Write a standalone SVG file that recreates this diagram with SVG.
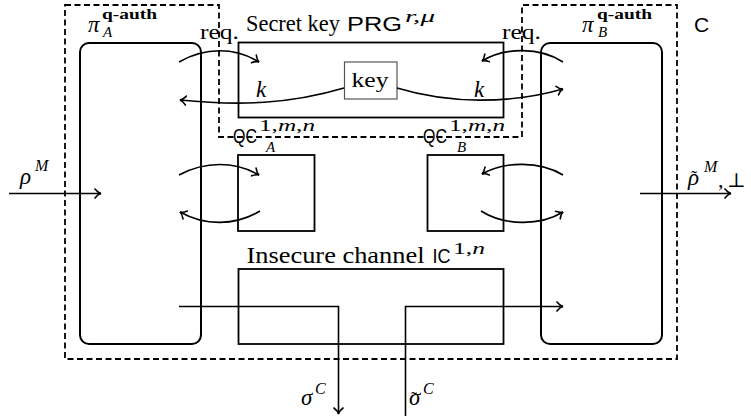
<svg xmlns="http://www.w3.org/2000/svg" width="751" height="420" viewBox="0 0 751 420">
<defs>
<marker id="arr" viewBox="-7 -6 9 12" refX="0" refY="0" markerWidth="9" markerHeight="12" markerUnits="userSpaceOnUse" orient="auto">
<path d="M-6,-4.5 C-3.8,-1.7 -1.3,-0.3 0,0 C-1.3,0.3 -3.8,1.7 -6,4.5" fill="none" stroke="#000" stroke-width="1.6" stroke-linecap="round"/>
</marker>
<style>
.box{fill:none;stroke:#000;stroke-width:1.8}
.rbox{fill:none;stroke:#000;stroke-width:2}
.dash{fill:none;stroke:#000;stroke-width:1.8;stroke-dasharray:6,3.5}
.ln{fill:none;stroke:#000;stroke-width:1.6;marker-end:url(#arr)}
.rm{font-family:'Liberation Serif','DejaVu Serif','Times New Roman',serif;fill:#000}
.it{font-family:'Liberation Serif','DejaVu Serif','Times New Roman',serif;font-style:italic;fill:#000}
.sf{font-family:'Liberation Sans','DejaVu Sans',Arial,sans-serif;fill:#000}
</style>
</defs>
<rect width="751" height="420" fill="#fff"/>

<g id="boundary">
<path class="dash" d="M65,5 H219 V137 H522 V5 H677 V359 H65 Z"/>
<text class="sf" x="694" y="32" font-size="21">C</text>
</g>

<g id="piA">
<rect class="rbox" x="80" y="43" width="121" height="301" rx="9"/>
<text class="it" y="32"><tspan x="88" font-size="23">π</tspan><tspan x="102" y="19" font-size="15" font-style="normal" font-weight="bold" textLength="55" lengthAdjust="spacingAndGlyphs">q-auth</tspan><tspan x="103" y="37" font-size="15">A</tspan></text>
</g>

<g id="piB">
<rect class="rbox" x="541" y="43" width="121" height="301" rx="9"/>
<text class="it" y="32"><tspan x="582" font-size="23">π</tspan><tspan x="597" y="19" font-size="15" font-style="normal" font-weight="bold" textLength="55" lengthAdjust="spacingAndGlyphs">q-auth</tspan><tspan x="598" y="37" font-size="15">B</tspan></text>
</g>

<g id="PRG">
<rect class="box" x="238.5" y="42.5" width="265" height="75"/>
<text class="rm" y="31"><tspan x="246" font-size="23" textLength="94" lengthAdjust="spacingAndGlyphs">Secret key</tspan><tspan class="sf" x="347" font-size="21" textLength="55" lengthAdjust="spacingAndGlyphs">PRG</tspan><tspan x="405" y="22" font-size="16" font-style="italic" textLength="30" lengthAdjust="spacingAndGlyphs">r,μ</tspan></text>
</g>

<g id="key">
<rect x="344.5" y="62" width="52.5" height="37" fill="#fff" stroke="#555" stroke-width="1.2"/>
<text class="rm" x="351.5" y="87" font-size="22" textLength="37" lengthAdjust="spacingAndGlyphs">key</text>
</g>

<g id="QCA">
<rect class="box" x="238" y="155" width="76.5" height="76"/>
<text class="sf" y="143"><tspan x="233" font-size="20" textLength="24" lengthAdjust="spacingAndGlyphs">QC</tspan><tspan class="rm" x="259" y="131" font-size="16" textLength="56" lengthAdjust="spacingAndGlyphs">1,<tspan font-style="italic">m</tspan>,<tspan font-style="italic">n</tspan></tspan><tspan class="rm" x="266" y="152" font-size="15" font-style="italic">A</tspan></text>
</g>

<g id="QCB">
<rect class="box" x="427.5" y="155" width="76" height="76"/>
<text class="sf" y="143"><tspan x="423" font-size="20" textLength="24" lengthAdjust="spacingAndGlyphs">QC</tspan><tspan class="rm" x="449" y="131" font-size="16" textLength="56" lengthAdjust="spacingAndGlyphs">1,<tspan font-style="italic">m</tspan>,<tspan font-style="italic">n</tspan></tspan><tspan class="rm" x="457" y="152" font-size="15" font-style="italic">B</tspan></text>
</g>

<g id="IC">
<rect class="box" x="238.5" y="269" width="265" height="75"/>
<text class="rm" y="263"><tspan x="246.5" font-size="23" textLength="178" lengthAdjust="spacingAndGlyphs">Insecure channel</tspan><tspan class="sf" x="432.5" font-size="21" textLength="18" lengthAdjust="spacingAndGlyphs">IC</tspan><tspan x="453" y="254" font-size="16" textLength="32" lengthAdjust="spacingAndGlyphs">1,<tspan font-style="italic">n</tspan></tspan></text>
</g>

<g id="connectors">
<path class="ln" d="M179,62 C205,47 235,47 259,62"/>
<path class="ln" d="M344,88 C290,104 240,106 180,100"/>
<path class="ln" d="M563,62 C540,47 505,47 482,61"/>
<path class="ln" d="M397,88 C450,104 510,104 563,89"/>
<path class="ln" d="M179,175 C205,161 235,161 259,175"/>
<path class="ln" d="M260,211 C235,226 205,226 180,212"/>
<path class="ln" d="M563,175 C540,161 505,161 482,174"/>
<path class="ln" d="M481,211 C505,226 540,226 563,212"/>
<path class="ln" d="M9,193.5 H101"/>
<path class="ln" d="M640,193.5 H731"/>
<path class="ln" d="M179,306.5 H338.5 V414"/>
<path class="ln" d="M405.5,416 V306.5 H563"/>
</g>

<g id="labels">
<text class="rm" x="200" y="39" font-size="22" textLength="39" lengthAdjust="spacingAndGlyphs">req.</text>
<text class="rm" x="502" y="39" font-size="22" textLength="39" lengthAdjust="spacingAndGlyphs">req.</text>
<text class="it" x="256" y="97" font-size="23">k</text>
<text class="it" x="474" y="97" font-size="23">k</text>
<text class="it" y="184"><tspan x="20" font-size="23">ρ</tspan><tspan x="35" y="171" font-size="16">M</tspan></text>
<text class="it" y="185"><tspan x="688" font-size="23">ρ</tspan><tspan x="691" y="184" font-size="18" font-style="normal">˜</tspan><tspan x="704" y="172" font-size="16">M</tspan><tspan x="718" y="187" font-size="22" font-style="normal">,</tspan><tspan x="727" y="187" font-size="20" font-style="normal">⊥</tspan></text>
<text class="it" y="405"><tspan x="301" font-size="23">σ</tspan><tspan x="315" y="394" font-size="16">C</tspan></text>
<text class="it" y="405"><tspan x="409" font-size="23">σ</tspan><tspan x="411" font-size="18" font-style="normal">˜</tspan><tspan x="423" y="394" font-size="16">C</tspan></text>
</g>
</svg>
